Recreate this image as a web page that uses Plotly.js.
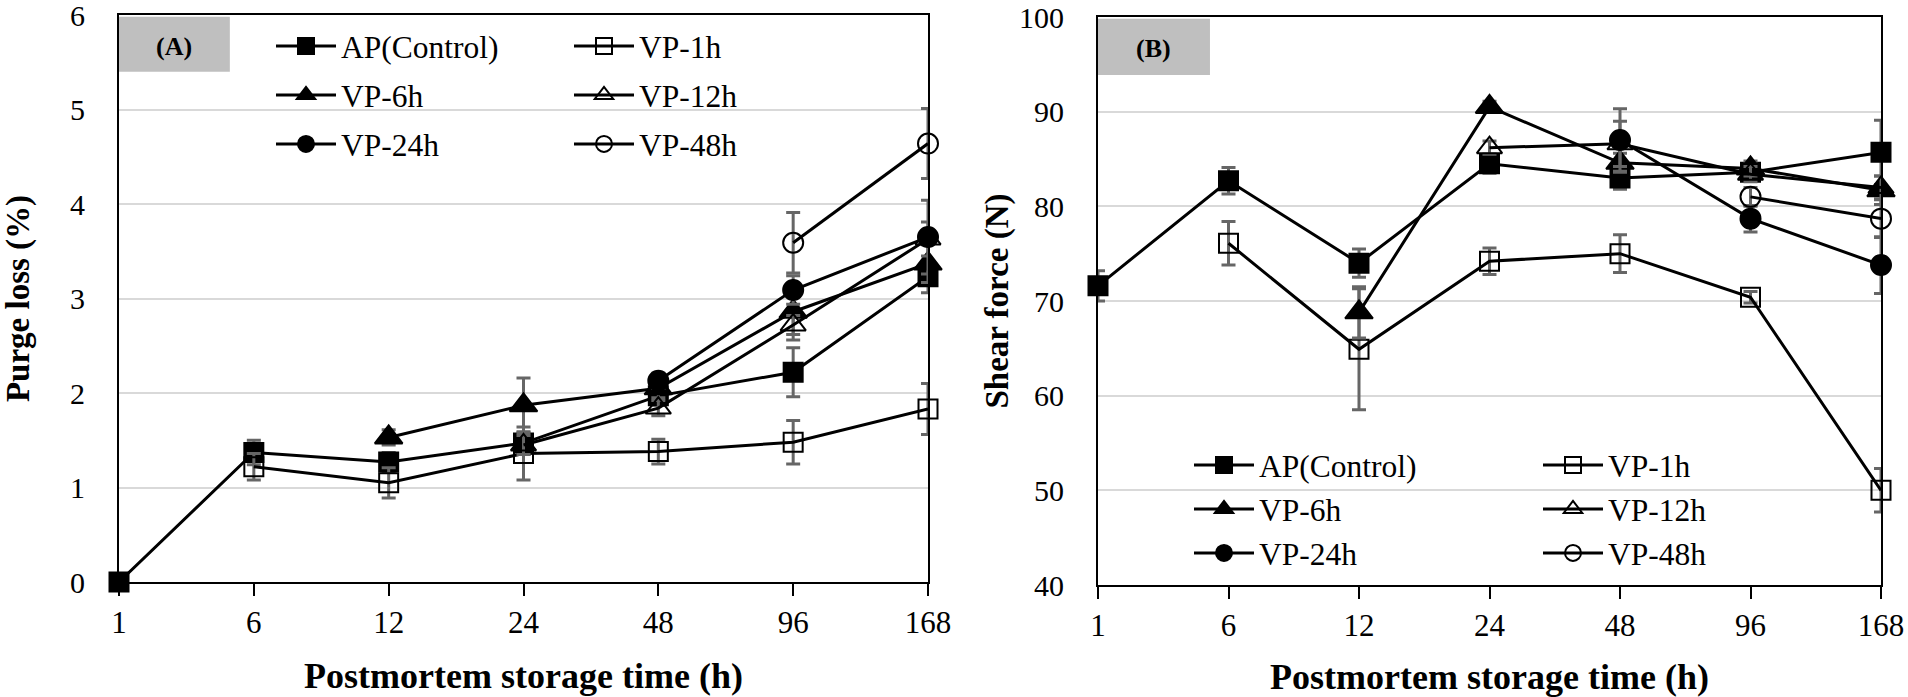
<!DOCTYPE html>
<html>
<head>
<meta charset="utf-8">
<script src="https://cdn.plot.ly/plotly-3.0.1.min.js"></script>
<style>html,body{margin:0;padding:0;background:#fff;}#chart{width:1908px;height:697px;}</style>
</head>
<body>
<div id="chart"></div>
<script>
// Storage time categories (h)
const hours = ["1", "6", "12", "24", "48", "96", "168"];
const seriesNames = ["AP(Control)", "VP-1h", "VP-6h", "VP-12h", "VP-24h", "VP-48h"];

// Sampling hours per series (each VP group starts after packaging)
const hoursAP = ["1", "6", "12", "24", "48", "96", "168"];
const hoursVP1 = ["6", "12", "24", "48", "96", "168"];
const hoursVP6 = ["12", "24", "48", "96", "168"];
const hoursVP12 = ["24", "48", "96", "168"];
const hoursVP24 = ["48", "96", "168"];
const hoursVP48 = ["96", "168"];

// (A) Purge loss (%)
const purgeAP = [0, 1.37, 1.27, 1.47, 1.97, 2.22, 3.23];
const purgeAPsd = [0, 0.13, 0.10, 0.12, 0.10, 0.26, 0.17];
const purgeVP1 = [1.22, 1.05, 1.36, 1.38, 1.48, 1.83];
const purgeVP1sd = [0.14, 0.16, 0.28, 0.13, 0.23, 0.27];
const purgeVP6 = [1.53, 1.87, 2.05, 2.86, 3.37];
const purgeVP6sd = [0.08, 0.29, 0.10, 0.30, 0.20];
const purgeVP12 = [1.45, 1.84, 2.72, 3.63];
const purgeVP12sd = [0.10, 0.08, 0.10, 0.18];
const purgeVP24 = [2.13, 3.09, 3.65];
const purgeVP24sd = [0.08, 0.15, 0.39];
const purgeVP48 = [3.59, 4.64];
const purgeVP48sd = [0.32, 0.37];

// (B) Shear force (N)
const shearAP = [71.6, 82.7, 74.0, 84.5, 83.0, 83.6, 85.7];
const shearAPsd = [1.6, 1.4, 1.5, 1.0, 1.2, 0.8, 3.4];
const shearVP1 = [76.1, 64.9, 74.2, 75.0, 70.4, 50.0];
const shearVP1sd = [2.3, 6.4, 1.4, 2.0, 0.6, 2.3];
const shearVP6 = [68.8, 90.5, 84.6, 84.0, 81.7];
const shearVP6sd = [2.7, 0.6, 1.0, 0.8, 1.5];
const shearVP12 = [86.2, 86.6, 83.4, 82.0];
const shearVP12sd = [0.7, 2.4, 0.8, 1.2];
const shearVP24 = [87.0, 78.7, 73.8];
const shearVP24sd = [3.3, 1.4, 3.0];
const shearVP48 = [81.0, 78.7];
const shearVP48sd = [1.0, 2.0];

const FONT = "Liberation Serif";
const symbols = ["square", "square-open", "triangle-up", "triangle-up-open", "circle", "circle-open"];
const sizes = [19, 19, 24, 22, 20, 20];
const xsets = [hoursAP, hoursVP1, hoursVP6, hoursVP12, hoursVP24, hoursVP48];

function makeTraces(ys, sds, xa, ya, legA, legB) {
  return ys.map((y, i) => ({
    type: "scatter", mode: "lines+markers",
    x: xsets[i], y: y, xaxis: xa, yaxis: ya,
    name: seriesNames[i],
    legend: (i % 2 === 0) ? legA : legB,
    legendgroup: xa + "g" + i,
    line: {color: "#000", width: 3},
    marker: {symbol: symbols[i], size: sizes[i], color: "#000", line: {color: "#000", width: 2}},
    error_y: {type: "data", array: sds[i], visible: true, color: "#666", thickness: 3, width: 7},
    cliponaxis: false
  }));
}

const traces = []
  .concat(makeTraces([purgeAP, purgeVP1, purgeVP6, purgeVP12, purgeVP24, purgeVP48],
                     [purgeAPsd, purgeVP1sd, purgeVP6sd, purgeVP12sd, purgeVP24sd, purgeVP48sd],
                     "x", "y", "legend", "legend2"))
  .concat(makeTraces([shearAP, shearVP1, shearVP6, shearVP12, shearVP24, shearVP48],
                     [shearAPsd, shearVP1sd, shearVP6sd, shearVP12sd, shearVP24sd, shearVP48sd],
                     "x2", "y2", "legend3", "legend4"));

const W = 1908, H = 697, ML = 119, MR = 27, MT = 15, MB = 112;
const PW = W - ML - MR, PH = H - MT - MB;
const px = v => (v - ML) / PW;
const py = v => (H - MB - v) / PH;

function xaxis(dom) {
  return {
    domain: dom, type: "category", categoryorder: "array", categoryarray: hours,
    range: [0, 6], showgrid: false, zeroline: false,
    showline: true, linecolor: "#000", linewidth: 2, mirror: true,
    ticks: "outside", ticklen: 12, tickwidth: 2, tickcolor: "#000",
    ticklabelstandoff: 0, ticklabeloverflow: "allow",
    tickfont: {family: FONT, size: 31, color: "#000"},
    title: {text: "Postmortem storage time (h)", font: {family: FONT, size: 36, color: "#000", weight: "bold"}, standoff: 24}
  };
}
function yaxis(dom, range, dtick, title, anchor, standoff) {
  return {
    domain: dom, range: range, dtick: dtick, tick0: range[0], anchor: anchor,
    showgrid: true, gridcolor: "#d9d9d9", gridwidth: 2, zeroline: false,
    showline: true, linecolor: "#000", linewidth: 2, mirror: true,
    ticks: "", ticklabelstandoff: 26, ticklabeloverflow: "allow",
    tickfont: {family: FONT, size: 30, color: "#000"},
    title: {text: title, font: {family: FONT, size: 33, color: "#000", weight: "bold"}, standoff: standoff}
  };
}

function legend(x, y, gap) {
  return {x: x, y: y, xref: "paper", yref: "paper", xanchor: "left", yanchor: "top",
          bgcolor: "rgba(0,0,0,0)", borderwidth: 0, tracegroupgap: gap, itemwidth: 60,
          font: {family: FONT, size: 31.5, color: "#000"}, orientation: "v", itemclick: false};
}

const layout = {
  width: W, height: H,
  margin: {l: ML, r: MR, t: MT, b: MB},
  paper_bgcolor: "#fff", plot_bgcolor: "#fff",
  font: {family: FONT, color: "#000"},
  showlegend: true,
  xaxis: Object.assign(xaxis([0, px(928)]), {anchor: "y"}),
  yaxis: yaxis([py(582), py(15)], [0, 6], 1, "Purge loss (%)", "x", 40),
  xaxis2: Object.assign(xaxis([px(1098), 1]), {anchor: "y2"}),
  yaxis2: yaxis([py(585), py(17)], [40, 100], 10, "Shear force (N)", "x2", 0),
  legend: legend(px(271), py(19), 5),
  legend2: legend(px(569), py(19), 5),
  legend3: legend(px(1189), py(438), 0),
  legend4: legend(px(1538), py(438), 0),
  shapes: [
    {type: "rect", xref: "x domain", yref: "y domain", x0: 0, x1: 0.137, y0: 0.9, y1: 0.997,
     fillcolor: "#bfbfbf", line: {width: 0}, layer: "below"},
    {type: "rect", xref: "x2 domain", yref: "y2 domain", x0: 0, x1: 0.143, y0: 0.898, y1: 0.997,
     fillcolor: "#bfbfbf", line: {width: 0}, layer: "below"}
  ],
  annotations: [
    {text: "<b>(A)</b>", xref: "x domain", yref: "y domain", x: 0.0685, y: 0.945, xanchor: "center", yanchor: "middle",
     showarrow: false, font: {family: FONT, size: 26, color: "#000"}},
    {text: "<b>(B)</b>", xref: "x2 domain", yref: "y2 domain", x: 0.0715, y: 0.945, xanchor: "center", yanchor: "middle",
     showarrow: false, font: {family: FONT, size: 26, color: "#000"}}
  ]
};

Plotly.newPlot("chart", traces, layout, {displayModeBar: false, staticPlot: true});
</script>
</body>
</html>
